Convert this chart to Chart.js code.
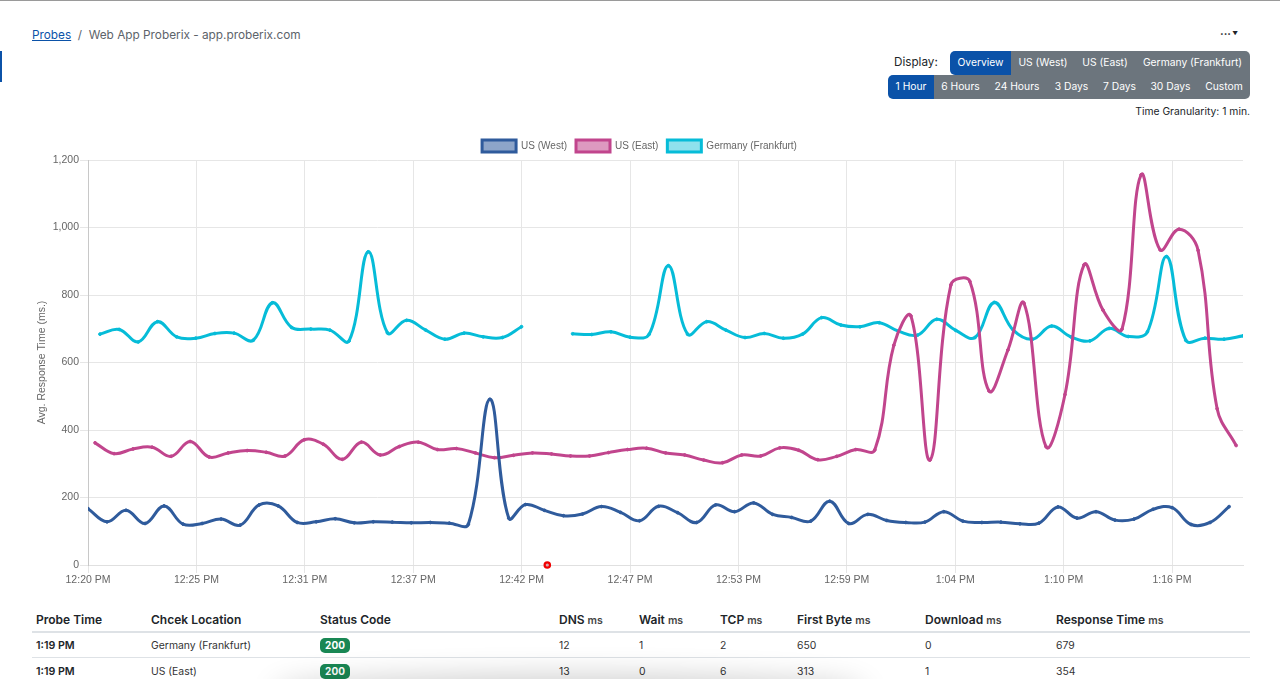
<!DOCTYPE html>
<html><head><meta charset="utf-8">
<script src="https://cdn.jsdelivr.net/npm/chart.js@4"></script>
<style>
html,body{margin:0;padding:0;width:1280px;height:679px;overflow:hidden;background:#fff;font-family:Inter,'Noto Sans',sans-serif;color:#212529}
.a{position:absolute;white-space:nowrap}
.top{left:0;top:0;width:1280px;height:1px;background:#9a9a9a}
.side{left:0;top:51px;width:2px;height:31px;background:#0b52a8}
.crumb{left:32px;top:27.5px;font-size:11.8px;line-height:15px;color:#5c636a}
.crumb a{color:#0b52a8;text-decoration:underline}
.btn{background:#6c757d;color:#fff;font-size:10.3px;text-align:center;height:24px;line-height:23px}
.blue{background:#0b52a8}
.gran{right:30px;top:104px;font-size:10.35px;line-height:14px;color:#212529}
#wrap{position:absolute;left:30px;top:130px;width:1220px;height:470px}
.th{font-size:12px;font-weight:600;top:612px;line-height:15px;color:#212529}
.th small{font-size:10.5px;font-weight:600;color:#444}
.td{font-size:10.4px;line-height:15px;color:#333}
.b{font-weight:600;font-size:10.7px;color:#212529}
.line{left:32px;width:1218px;height:1px;background:#dee2e6}
.badge{background:#198754;color:#fff;font-size:10px;font-weight:700;width:30px;height:15px;line-height:15px;text-align:center;border-radius:5px;left:320px}
.shadow{left:290px;top:690px;width:560px;height:10px;border-radius:50%;box-shadow:0 0 30px 14px rgba(0,0,0,.2)}
</style></head><body>
<div class="a top"></div><div class="a side"></div>
<div class="a crumb"><a>Probes</a>&nbsp;&nbsp;/&nbsp;&nbsp;Web App Proberix - app.proberix.com</div>
<div class="a" style="left:1220px;top:27px;font-size:11px;line-height:14px;font-weight:700">···<span style="font-size:5.5px;vertical-align:2px"> ▼</span></div>
<div class="a" style="left:894px;top:54px;font-size:11.7px;line-height:16px">Display:</div>
<div class="a btn blue" style="left:950px;top:50.5px;width:61px;border-radius:5px 0 0 5px">Overview</div>
<div class="a btn" style="left:1011px;top:50.5px;width:64px">US (West)</div>
<div class="a btn" style="left:1075px;top:50.5px;width:60px">US (East)</div>
<div class="a btn" style="left:1135px;top:50.5px;width:115px;border-radius:0 5px 0 0">Germany (Frankfurt)</div>
<div class="a btn blue" style="left:888px;top:74.5px;width:46px;border-radius:5px 0 0 5px">1 Hour</div>
<div class="a btn" style="left:934px;top:74.5px;width:53px">6 Hours</div>
<div class="a btn" style="left:987px;top:74.5px;width:60px">24 Hours</div>
<div class="a btn" style="left:1047px;top:74.5px;width:49px">3 Days</div>
<div class="a btn" style="left:1096px;top:74.5px;width:47px">7 Days</div>
<div class="a btn" style="left:1143px;top:74.5px;width:55px">30 Days</div>
<div class="a btn" style="left:1198px;top:74.5px;width:52px;border-radius:0 0 5px 0">Custom</div>
<div class="a gran">Time Granularity: 1 min.</div>
<div id="wrap"><canvas id="c" width="1220" height="470"></canvas></div>

<div class="a th" style="left:36px">Probe Time</div>
<div class="a th" style="left:151px">Chcek Location</div>
<div class="a th" style="left:320px">Status Code</div>
<div class="a th" style="left:559px">DNS <small>ms</small></div>
<div class="a th" style="left:639px">Wait <small>ms</small></div>
<div class="a th" style="left:720px">TCP <small>ms</small></div>
<div class="a th" style="left:797px">First Byte <small>ms</small></div>
<div class="a th" style="left:925px">Download <small>ms</small></div>
<div class="a th" style="left:1056px">Response Time <small>ms</small></div>
<div class="a line" style="top:631px;height:2px"></div>
<div class="a td b" style="left:36px;top:638px">1:19 PM</div>
<div class="a td" style="left:151px;top:638px">Germany (Frankfurt)</div>
<div class="a badge" style="top:638px">200</div>
<div class="a td" style="left:559px;top:638px">12</div>
<div class="a td" style="left:639px;top:638px">1</div>
<div class="a td" style="left:720px;top:638px">2</div>
<div class="a td" style="left:797px;top:638px">650</div>
<div class="a td" style="left:925px;top:638px">0</div>
<div class="a td" style="left:1056px;top:638px">679</div>
<div class="a line" style="top:657px"></div>
<div class="a td b" style="left:36px;top:664px">1:19 PM</div>
<div class="a td" style="left:151px;top:664px">US (East)</div>
<div class="a badge" style="top:664px">200</div>
<div class="a td" style="left:559px;top:664px">13</div>
<div class="a td" style="left:639px;top:664px">0</div>
<div class="a td" style="left:720px;top:664px">6</div>
<div class="a td" style="left:797px;top:664px">313</div>
<div class="a td" style="left:925px;top:664px">1</div>
<div class="a td" style="left:1056px;top:664px">354</div>
<div class="a shadow"></div>

<script>
const tickLabels = ['12:20 PM','12:25 PM','12:31 PM','12:37 PM','12:42 PM','12:47 PM','12:53 PM','12:59 PM','1:04 PM','1:10 PM','1:16 PM'];
const tickMinutes = [0,5.7,11.4,17.1,22.8,28.5,34.2,39.9,45.6,51.3,57];
const usWest = [167,128,162,123,175,121,123,136,118,178,175,126,128,137,125,128,127,125,126,124,121,491,139,179,162,146,151,173,156,131,
 174,155,126,178,158,184,150,141,130,189,123,150,132,126,127,158,130,126,127,122,124,172,139,158,133,136,165,170,120,126,173];
const usEast = [362,330,344,349,322,366,320,332,339,334,323,371,358,313,364,326,351,364,342,345,332,318,325,332,329,323,323,333,342,
 346,332,326,311,303,326,323,347,340,312,322,342,341,651,738,311,830,840,516,637,775,351,505,889,755,699,1156,934,995,932,463,354];
const germanyBefore = [684,698,661,721,676,672,686,687,666,777,704,699,696,664,928,688,725,696,669,687,676,674,706];
const germanyAfter = [685,683,691,675,684,887,684,721,696,674,686,672,684,733,711,706,718,693,681,728,695,674,778,696,669,708,676,664,701,677,691,914,666,672,669,679];
const outageMinute = [24.15];
const outageValue = [0];
// probe-time lag, in minutes, of the samples that ran off the one-minute beat
const westLag = {21: 0.13, 22: 0.12};
const eastLag = {43: -0.1, 44: -0.1, 49: -0.15};
const westStart = 0, eastStart = 0.37, germanyStart = 0.63, germanyResume = 25.48, germanyStep = 1.0075, axisEnd = 60.73;

const series = (vals, start, step, lag = {}) => vals.map((y, i) => ({x: start + i * step + (lag[i] || 0), y}));
const germany = [...series(germanyBefore, germanyStart, germanyStep), {x: 24.5, y: null}, ...series(germanyAfter, germanyResume, germanyStep)];
const line = (label, data, color, fill) => ({label, data, borderColor: color, backgroundColor: fill, pointBackgroundColor: color, pointBorderColor: color,
  borderWidth: 3, pointRadius: 1.4, pointBorderWidth: 1, tension: 0.4, spanGaps: false, fill: false});

const legendFit = {id: 'legendFit',
  beforeInit(chart) {
    const fit = chart.legend.fit;
    chart.legend.fit = function () { fit.call(this); this.height = 29; };
  },
  afterLayout(chart) { chart.legend.left += 3; chart.legend.right += 3; }
};

new Chart(document.getElementById('c'), {
  type: 'line',
  plugins: [legendFit],
  data: {datasets: [
    line('US (West)', series(usWest, westStart, 1, westLag), '#2f5b9c', 'rgba(47,91,156,.55)'),
    line('US (East)', series(usEast, eastStart, 1, eastLag), '#c1458d', 'rgba(193,69,141,.55)'),
    line('Germany (Frankfurt)', germany, '#06bcd8', 'rgba(6,188,216,.45)'),
    {label: 'Outage', data: outageMinute.map((x, i) => ({x, y: outageValue[i]})), showLine: false, clip: false,
     pointRadius: 2.7, pointBorderWidth: 2.2, pointBackgroundColor: '#d8a8b0', pointBorderColor: '#f00000', borderColor: '#f00000'}
  ]},
  options: {
    responsive: false, animation: false,
    layout: {padding: {top: 1, right: 7, left: 0, bottom: 0}},
    plugins: {
      tooltip: {enabled: false},
      legend: {position: 'top', labels: {boxWidth: 34, boxHeight: 12, padding: 9, color: '#666',
        font: {family: "'Liberation Sans'", size: 10}, filter: it => it.text !== 'Outage'}}
    },
    scales: {
      x: {type: 'linear', min: 0, max: axisEnd,
        afterBuildTicks: a => { a.ticks = tickMinutes.map(value => ({value})); },
        afterFit: s => { s.height = 35; },
        grid: {color: '#e6e6e6'}, border: {color: '#e0e0e0'},
        ticks: {autoSkip: false, maxRotation: 0, color: '#666', padding: 1, font: {family: "'Liberation Sans'", size: 10.5},
          callback: (v, i) => tickLabels[i]}},
      y: {min: 0, max: 1200,
        afterFit: s => { s.width = 58; },
        grid: {color: '#e6e6e6'}, border: {color: '#c8c8c8'},
        title: {display: true, text: 'Avg. Response Time (ms.)', color: '#666', font: {family: "'Liberation Sans'", size: 10.5}, padding: {top: 6, bottom: 0}},
        ticks: {stepSize: 200, color: '#666', padding: 1, font: {family: "'Liberation Sans'", size: 10.5},
          callback: v => v.toLocaleString('en-US')}}
    }
  }
});
</script>
</body></html>
